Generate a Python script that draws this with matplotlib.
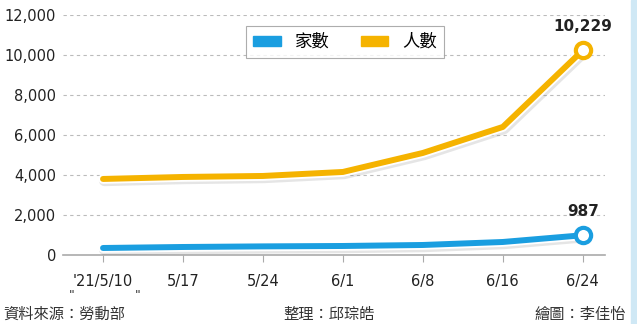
import matplotlib.pyplot as plt
import matplotlib.patheffects as pe
from matplotlib.patches import Patch

plt.rcParams['font.family'] = ['Noto Sans CJK TC', 'DejaVu Sans']

dates = ["'21/5/10", '5/17', '5/24', '6/1', '6/8', '6/16', '6/24']
households = [350, 400, 430, 450, 500, 650, 987]
people = [3800, 3900, 3950, 4150, 5100, 6400, 10229]
yticks = [0, 2000, 4000, 6000, 8000, 10000, 12000]

blue = '#1a9ee0'
gold = '#f5b300'

fig = plt.figure(figsize=(6.37, 3.24), dpi=100)
ax = fig.add_axes([0.099, 0.213, 0.851, 0.741])
x = list(range(len(dates)))

effects = [pe.SimpleLineShadow(offset=(1, -1.2), shadow_color='#555555', alpha=0.15, linewidth=8),
           pe.Stroke(linewidth=7, foreground='white'), pe.Normal()]
for vals, col in [(people, gold), (households, blue)]:
    ax.plot(x, vals, color=col, lw=4.3, solid_capstyle='round', solid_joinstyle='round',
            path_effects=effects, zorder=3)
    ax.plot(x[-1], vals[-1], 'o', ms=11, mfc='white', mec=col, mew=3, zorder=4)

ax.annotate(f'{people[-1]:,}', (x[-1], people[-1]), xytext=(0, 12), textcoords='offset points',
            ha='center', va='bottom', fontsize=11, fontweight='bold', family='DejaVu Sans', color='#222222')
ax.annotate(f'{households[-1]:,}', (x[-1], households[-1]), xytext=(0, 12), textcoords='offset points',
            ha='center', va='bottom', fontsize=11, fontweight='bold', family='DejaVu Sans', color='#222222')

ax.set_xlim(-0.5, 6.28)
ax.set_ylim(0, 12000)
ax.set_yticks(yticks)
ax.set_yticklabels([f'{v:,}' for v in yticks], family='DejaVu Sans', fontsize=10.5, color='#222222')
ax.set_xticks(x)
ax.set_xticklabels(dates, family='DejaVu Sans', fontsize=10.5, color='#222222')
ax.tick_params(axis='y', length=0, pad=5)
ax.tick_params(axis='x', length=5, color='#aaaaaa', pad=9)

for v in yticks[1:]:
    ax.axhline(v, color='#bbbbbb', lw=0.8, ls=(0, (3, 3)), zorder=1)
for s in ['top', 'right', 'left']:
    ax.spines[s].set_visible(False)
ax.spines['bottom'].set_color('#aaaaaa')
ax.spines['bottom'].set_linewidth(1.2)

handles = [Patch(color=blue, label='家數'), Patch(color=gold, label='人數')]
leg = ax.legend(handles=handles, loc='upper center', bbox_to_anchor=(0.52, 0.99), ncol=2,
                fontsize=12.5, frameon=True, fancybox=False, edgecolor='#999999',
                handlelength=1.6, handleheight=0.5, columnspacing=1.8, borderpad=0.4)
leg.get_frame().set_linewidth(0.8)

fig.text(0.005, 0.015, '資料來源：勞動部', fontsize=11, color='#333333')
fig.text(0.108, 0.076, '"', fontsize=9, color='#333333', family='DejaVu Sans', style='italic')
fig.text(0.212, 0.076, '"', fontsize=9, color='#333333', family='DejaVu Sans', style='italic')
fig.text(0.517, 0.015, '整理：邱琮皓', fontsize=11, color='#333333', ha='center')
fig.text(0.982, 0.015, '繪圖：李佳怡', fontsize=11, color='#333333', ha='right')

fig.add_artist(plt.Rectangle((0.99, 0), 0.01, 1, transform=fig.transFigure, color='#cfe8f5'))

fig.savefig('out.png', dpi=100)
